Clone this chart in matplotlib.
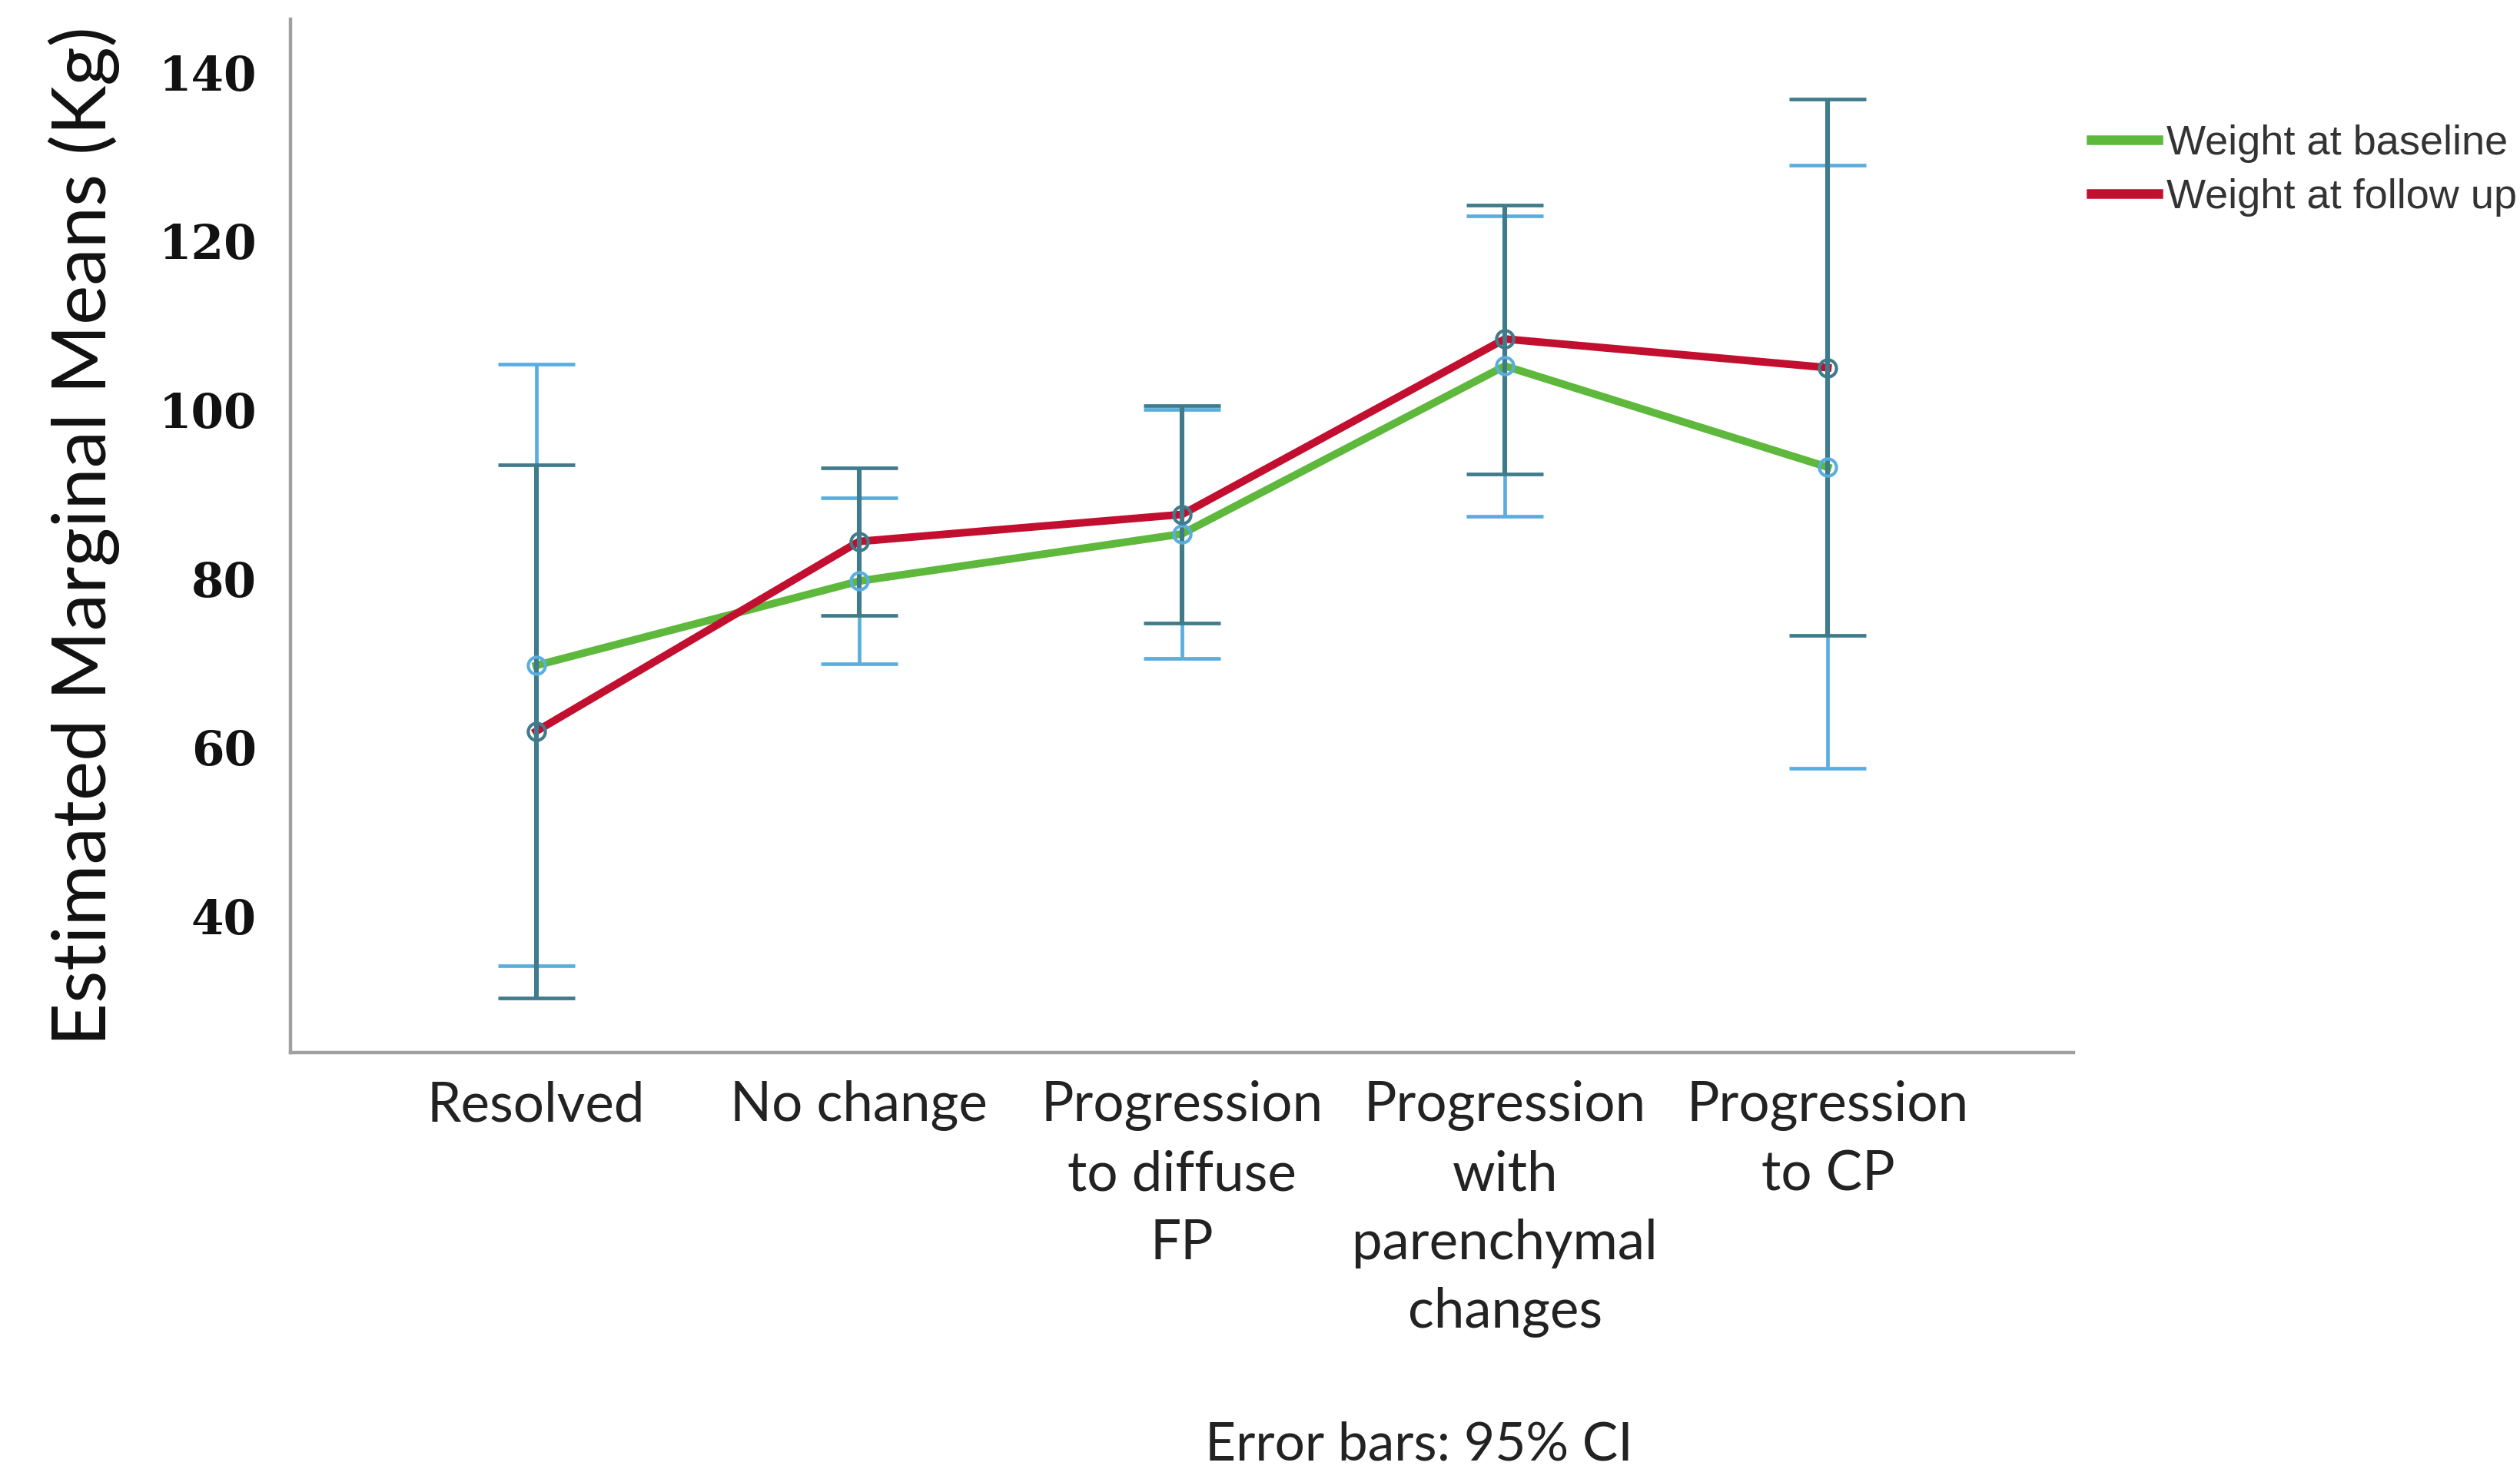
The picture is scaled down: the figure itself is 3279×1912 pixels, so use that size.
import matplotlib
matplotlib.use("Agg")
import matplotlib.pyplot as plt
import numpy as np

# data
categories = ["Resolved", "No change", "Progression\nto diffuse\nFP",
              "Progression\nwith\nparenchymal\nchanges", "Progression\nto CP"]
baseline_mean = [69.7, 79.7, 85.3, 105.2, 93.2]
baseline_low = [34.1, 69.9, 70.5, 87.4, 57.5]
baseline_high = [105.4, 89.6, 100.0, 123.0, 129.0]
followup_mean = [61.9, 84.4, 87.6, 108.4, 105.0]
followup_low = [30.3, 75.6, 74.7, 92.4, 73.3]
followup_high = [93.5, 93.1, 100.5, 124.3, 136.8]
yticks = [40, 60, 80, 100, 120, 140]

GREEN = "#5db83c"
RED = "#c30f2f"
LIGHT_ERR = "#5aaedf"
DARK_ERR = "#3f7b8b"

plt.rcParams["font.family"] = ["Lato", "DejaVu Sans"]

fig = plt.figure(figsize=(3279 / 200, 1912 / 200), dpi=200)
ax = fig.add_axes([0.1154, 0.2834, 0.7073, 0.7035])

x = np.arange(len(categories))
ax.plot(x, baseline_mean, color=GREEN, lw=3.6, zorder=2, label="Weight at baseline")
ax.plot(x, followup_mean, color=RED, lw=3.6, zorder=2, label="Weight at follow up")


def draw_ci(mean, low, high, color, lw, z):
    mean = np.asarray(mean)
    err = [mean - np.asarray(low), np.asarray(high) - mean]
    ax.errorbar(x, mean, yerr=err, fmt="none", ecolor=color, elinewidth=lw,
                capsize=18, capthick=1.7, zorder=z)
    ax.plot(x, mean, ls="none", marker="o", ms=8, mfc="none", mec=color,
            mew=1.5, zorder=z + 2)


draw_ci(baseline_mean, baseline_low, baseline_high, LIGHT_ERR, 1.7, 3)
draw_ci(followup_mean, followup_low, followup_high, DARK_ERR, 2.2, 4)

ax.set_xlim(-0.76, 4.76)
ax.set_ylim(23.8, 146.3)
ax.set_yticks(yticks)
ax.set_yticklabels([str(t) for t in yticks], family="DejaVu Serif",
                   fontweight="bold", fontsize=22, color="#111111")
ax.set_xticks(x)
ax.set_xticklabels(categories, fontsize=25.5, color="#222222", linespacing=1.46)
ax.tick_params(axis="both", length=0)
ax.tick_params(axis="y", pad=16)
ax.tick_params(axis="x", pad=13)
ax.set_ylabel("Estimated Marginal Means (Kg)", fontsize=35, color="#111111",
              labelpad=18)

for side in ["top", "right"]:
    ax.spines[side].set_visible(False)
for side in ["left", "bottom"]:
    ax.spines[side].set_color("#a0a0a0")
    ax.spines[side].set_linewidth(1.6)

fig.legend(loc="upper left", bbox_to_anchor=(0.815, 0.941), frameon=False,
           prop={"family": "Liberation Sans", "size": 19.5}, handlelength=1.6,
           handletextpad=0.2, labelspacing=0.38, labelcolor="#333333")
for line in fig.legends[0].get_lines():
    line.set_linewidth(4.5)

fig.text(0.563, 0.016, "Error bars: 95% CI", ha="center", va="center",
         fontsize=25, color="#222222")

fig.savefig("out.png", dpi=200, facecolor="white")
